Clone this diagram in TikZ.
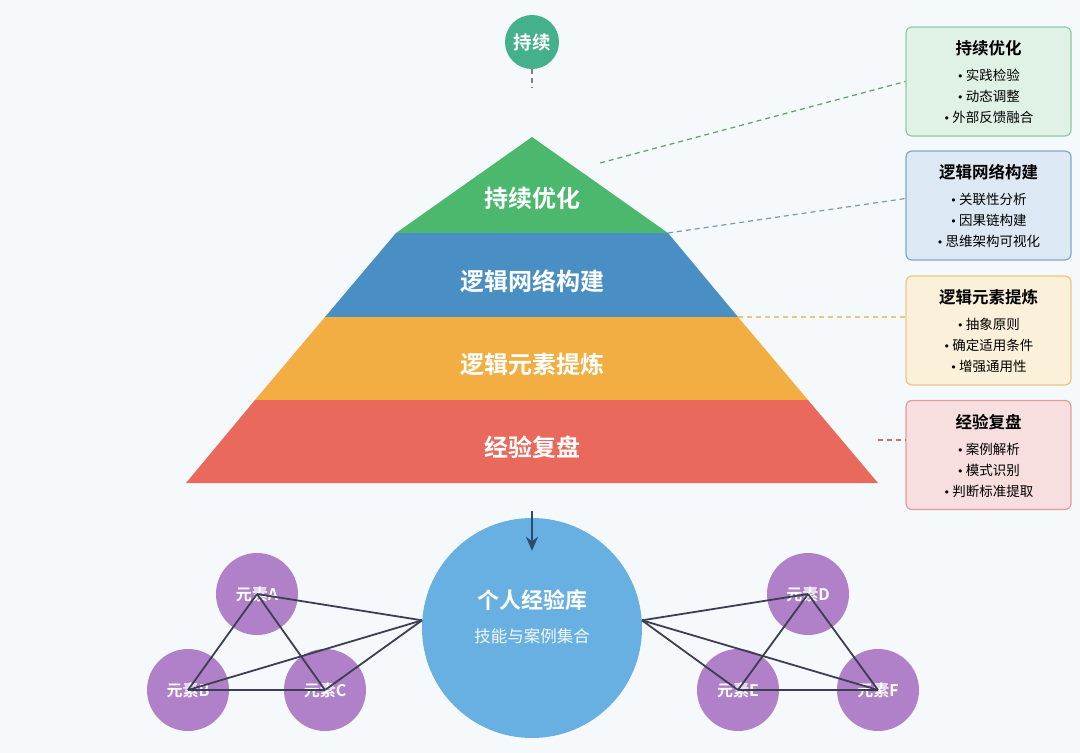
\documentclass[tikz,border=0pt]{standalone}
\usepackage{fontspec}
\setmainfont{Noto Sans CJK SC}[BoldFont={Noto Sans CJK SC Bold}]
\newfontfamily\bulfont{DejaVu Sans}
\newcommand\bul{{\bulfont\fontsize{11}{11}\selectfont •}\,}
\usepackage{xcolor}
\usetikzlibrary{arrows.meta}

\definecolor{bgcol}{HTML}{F6F9FB}
\definecolor{topgreen}{HTML}{45B08C}
\definecolor{lvgreen}{HTML}{4CB86E}
\definecolor{lvblue}{HTML}{4A8FC4}
\definecolor{lvorange}{HTML}{F2AE42}
\definecolor{lvred}{HTML}{E96A5C}
\definecolor{libblue}{HTML}{69B0E2}
\definecolor{elempurple}{HTML}{B080C8}
\definecolor{arrownavy}{HTML}{2B4A6F}
\definecolor{linkgray}{HTML}{3B3F52}
\definecolor{fillA}{HTML}{E0F2E6}\definecolor{lineA}{HTML}{8CCBA4}
\definecolor{fillB}{HTML}{DCE9F4}\definecolor{lineB}{HTML}{7FA8CC}
\definecolor{fillC}{HTML}{FBF0D9}\definecolor{lineC}{HTML}{E8C883}
\definecolor{fillD}{HTML}{F7DEDF}\definecolor{lineD}{HTML}{E39C9C}

\begin{document}
\begin{tikzpicture}[x=1pt, y=-1pt,
  layer/.style={text=white, font=\fontsize{24}{24}\selectfont\bfseries},
  sidebox/.style={draw=line#1, fill=fill#1, line width=1.2pt, rounded corners=6pt,
    minimum width=165pt, minimum height=109pt},
  elem/.style={circle, fill=elempurple, minimum size=82pt, inner sep=0pt,
    text=white, font=\fontsize{16}{16}\selectfont\bfseries},
  link/.style={linkgray, line width=1.8pt},
  guide/.style={dashed, line width=1.2pt, dash pattern=on 5pt off 4pt}]
  % Background
  \useasboundingbox (0,0) rectangle (1080,753);
  \fill[bgcol] (0,0) rectangle (1080,753);
  % Top badge
  \node[circle, fill=topgreen, minimum size=54pt, inner sep=0pt, text=white,
    font=\fontsize{18.5}{18.5}\selectfont\bfseries] (badge) at (532,42) {持续};
  \coordinate (badgeend) at (532,88);
  \draw[guide, gray] (badge.south) -- (badgeend);
  % Pyramid
  \fill[lvgreen] (532,137) -- (668,233) -- (396,233) -- cycle;
  \fill[lvblue] (396,233) -- (668,233) -- (738,317) -- (325,317) -- cycle;
  \fill[lvorange] (325,317) -- (738,317) -- (808,400) -- (255,400) -- cycle;
  \fill[lvred] (255,400) -- (808,400) -- (878,483) -- (186,483) -- cycle;
  \node[layer] (lv1) at (532,198) {持续优化};
  \node[layer] (lv2) at (532,281) {逻辑网络构建};
  \node[layer] (lv3) at (532,364) {逻辑元素提炼};
  \node[layer] (lv4) at (532,447) {经验复盘};
  % Side boxes
  \foreach \n/\yc/\t/\a/\b/\c in {A/81.5/持续优化/实践检验/动态调整/外部反馈融合,
      B/205.5/逻辑网络构建/关联性分析/因果链构建/思维架构可视化,
      C/330.5/逻辑元素提炼/抽象原则/确定适用条件/增强通用性,
      D/455/经验复盘/案例解析/模式识别/判断标准提取} {
    \node[sidebox=\n] (box\n) at (988.5,\yc) {};
    \node[font=\fontsize{16.5}{16.5}\selectfont\bfseries] (title\n) at (988.5,\yc-33) {\t};
    \node[font=\fontsize{13.5}{21}\selectfont, align=center, anchor=north]
      (items\n) at (988.5,\yc-15.5) {\bul\a\\\bul\b\\\bul\c};
  }
  % Guide lines to boxes
  \coordinate (g1) at (600,163);
  \coordinate (g2) at (668,233);
  \coordinate (g3) at (738,317);
  \coordinate (g4) at (878,440);
  \draw[guide, color=gray!75!green] (g1) -- (boxA.west);
  \draw[guide, color=lineB!60!gray] (g2) -- ([yshift=7pt]boxB.west);
  \draw[guide, color=lineC] (g3) -- ([yshift=13.5pt]boxC.west);
  \draw[guide, color=lvred!60!gray] (g4) -- ([yshift=15pt]boxD.west);
  % Experience library
  \node[circle, fill=libblue, minimum size=220pt, inner sep=0pt] (lib) at (532,628) {};
  \node[text=white, font=\fontsize{22}{22}\selectfont\bfseries] (libtitle) at (532,600) {个人经验库};
  \node[text=white!92!libblue, font=\fontsize{16.5}{16.5}\selectfont] (libsub) at (532,636) {技能与案例集合};
  \coordinate (arrstart) at (532,511);
  \draw[arrownavy, line width=2.5pt, -{Stealth[length=14pt, width=12pt]}]
    (arrstart) -- ([yshift=-33pt]lib.north);
  % Elements
  \foreach \n/\x/\y in {A/257/594, B/188/690, C/325/690, D/808/594, E/738/690, F/878/690}
    \node[elem] (e\n) at (\x,\y) {元素\n};
  % Links
  \foreach \p/\q in {A/B, A/C, B/C, D/E, D/F, E/F}
    \draw[link] (e\p.center) -- (e\q.center);
  \foreach \p in {A,B,C}
    \draw[link] (e\p.center) -- (lib.176);
  \foreach \p in {D,E,F}
    \draw[link] (e\p.center) -- (lib.4);
\end{tikzpicture}
\end{document}
